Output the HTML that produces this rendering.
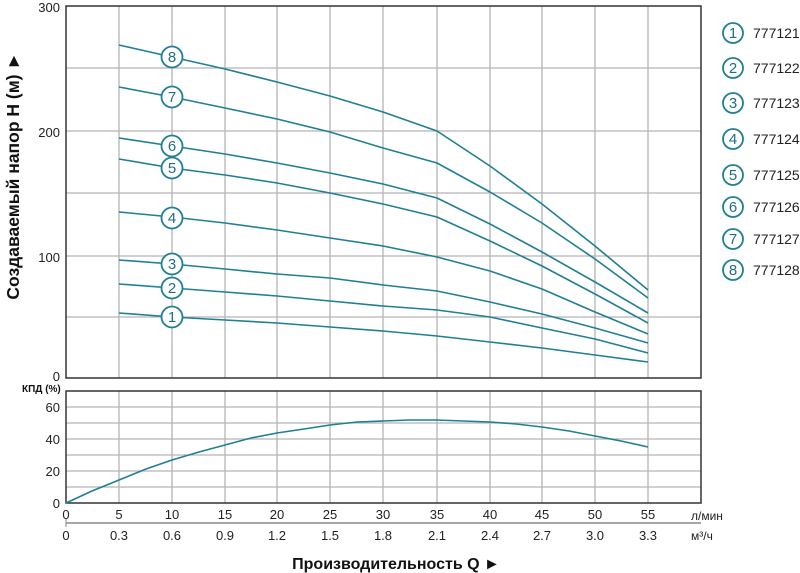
<!DOCTYPE html>
<html><head><meta charset="utf-8"><style>
body{margin:0;background:#fff;}
svg{display:block;font-family:"Liberation Sans",Arial,sans-serif;}
</style></head><body>
<svg width="800" height="573" viewBox="0 0 800 573" xmlns="http://www.w3.org/2000/svg">
<g stroke="#b4b4b4" stroke-width="1.3">
<line x1="119" y1="6" x2="119" y2="378"/><line x1="172" y1="6" x2="172" y2="378"/><line x1="225" y1="6" x2="225" y2="378"/><line x1="277" y1="6" x2="277" y2="378"/><line x1="330" y1="6" x2="330" y2="378"/><line x1="383" y1="6" x2="383" y2="378"/><line x1="437" y1="6" x2="437" y2="378"/><line x1="490" y1="6" x2="490" y2="378"/><line x1="542" y1="6" x2="542" y2="378"/><line x1="595" y1="6" x2="595" y2="378"/><line x1="648" y1="6" x2="648" y2="378"/>
<line x1="66" y1="68" x2="701" y2="68"/><line x1="66" y1="131" x2="701" y2="131"/><line x1="66" y1="193" x2="701" y2="193"/><line x1="66" y1="256" x2="701" y2="256"/><line x1="66" y1="317" x2="701" y2="317"/>
<line x1="119" y1="391" x2="119" y2="503"/><line x1="172" y1="391" x2="172" y2="503"/><line x1="225" y1="391" x2="225" y2="503"/><line x1="277" y1="391" x2="277" y2="503"/><line x1="330" y1="391" x2="330" y2="503"/><line x1="383" y1="391" x2="383" y2="503"/><line x1="437" y1="391" x2="437" y2="503"/><line x1="490" y1="391" x2="490" y2="503"/><line x1="542" y1="391" x2="542" y2="503"/><line x1="595" y1="391" x2="595" y2="503"/><line x1="648" y1="391" x2="648" y2="503"/>
<line x1="66" y1="407" x2="701" y2="407"/><line x1="66" y1="423" x2="701" y2="423"/><line x1="66" y1="439" x2="701" y2="439"/><line x1="66" y1="455" x2="701" y2="455"/><line x1="66" y1="471" x2="701" y2="471"/><line x1="66" y1="487" x2="701" y2="487"/>
</g>
<rect x="66" y="6" width="635" height="372" fill="none" stroke="#333" stroke-width="1.5"/>
<rect x="66" y="391" width="635" height="112" fill="none" stroke="#333" stroke-width="1.5"/>
<line x1="66" y1="523" x2="701" y2="523" stroke="#888" stroke-width="1.5"/>
<line x1="66" y1="519" x2="66" y2="527" stroke="#888"/>
<g fill="none" stroke="#1f7f94" stroke-width="1.6" stroke-linejoin="round">
<polyline points="119,45 172,57 225,69 277,82 330,96 383,112 437,131 490,166 542,204 595,246 648,290"/>
<polyline points="119,87 172,97 225,108 277,119 330,132 383,148 437,163 490,192 542,223 595,259 648,298"/>
<polyline points="119,138 172,146 225,154 277,163 330,173 383,184 437,198 490,224 542,252 595,282 648,313"/>
<polyline points="119,159 172,168 225,175 277,183 330,193 383,204 437,217 490,241 542,266 595,294 648,323"/>
<polyline points="119,212 172,217 225,223 277,230 330,238 383,246 437,257 490,271 542,289 595,312 648,334"/>
<polyline points="119,260 172,264 225,269 277,274 330,278 383,285 437,291 490,302 542,314 595,328 648,343"/>
<polyline points="119,284 172,288 225,292 277,296 330,301 383,306 437,310 490,317 542,328 595,339 648,353"/>
<polyline points="119,313 172,317 225,320 277,323 330,327 383,331 437,336 490,342 542,348 595,355 648,362"/>
<polyline points="66,503 92,491 119,480 146,469 172,460 199,452 225,445 251,438 277,433 304,429 330,425 357,422 383,421 410,420 437,420 463,421 490,422 516,424 542,427 569,431 595,436 621,441 648,447"/>
</g>
<g fill="#fff" stroke="#1f7f94" stroke-width="1.8">
<circle cx="172" cy="57" r="10.5"/><circle cx="172" cy="97" r="10.5"/><circle cx="172" cy="146" r="10.5"/><circle cx="172" cy="168" r="10.5"/><circle cx="172" cy="218" r="10.5"/><circle cx="172" cy="264" r="10.5"/><circle cx="172" cy="288" r="10.5"/><circle cx="172" cy="317" r="10.5"/>
<circle cx="733" cy="33" r="10"/><circle cx="733" cy="68" r="10"/><circle cx="733" cy="103" r="10"/><circle cx="733" cy="139" r="10"/><circle cx="733" cy="175" r="10"/><circle cx="733" cy="207" r="10"/><circle cx="733" cy="239" r="10"/><circle cx="733" cy="270" r="10"/>
</g>
<g fill="#1f6f84" font-size="15" text-anchor="middle">
<text x="172" y="62">8</text><text x="172" y="102">7</text><text x="172" y="151">6</text><text x="172" y="173">5</text><text x="172" y="223">4</text><text x="172" y="269">3</text><text x="172" y="293">2</text><text x="172" y="322">1</text>
<text x="733" y="38">1</text><text x="733" y="73">2</text><text x="733" y="108">3</text><text x="733" y="144">4</text><text x="733" y="180">5</text><text x="733" y="212">6</text><text x="733" y="244">7</text><text x="733" y="275">8</text>
</g>
<g fill="#222" font-size="14">
<text x="753" y="38">777121</text><text x="753" y="73">777122</text><text x="753" y="108">777123</text><text x="753" y="144">777124</text><text x="753" y="180">777125</text><text x="753" y="212">777126</text><text x="753" y="244">777127</text><text x="753" y="275">777128</text>
</g>
<g fill="#222" font-size="13" text-anchor="end">
<text x="60" y="12">300</text><text x="60" y="137">200</text><text x="60" y="262">100</text><text x="60" y="381">0</text>
<text x="60" y="412">60</text><text x="60" y="444">40</text><text x="60" y="476">20</text><text x="60" y="508">0</text>
</g>
<text x="22" y="392" font-size="10" font-weight="bold" fill="#111">КПД (%)</text>
<g fill="#222" font-size="13" text-anchor="middle">
<text x="66" y="519">0</text><text x="119" y="519">5</text><text x="172" y="519">10</text><text x="225" y="519">15</text><text x="277" y="519">20</text><text x="330" y="519">25</text><text x="383" y="519">30</text><text x="437" y="519">35</text><text x="490" y="519">40</text><text x="542" y="519">45</text><text x="595" y="519">50</text><text x="648" y="519">55</text>
<text x="66" y="540">0</text><text x="119" y="540">0.3</text><text x="172" y="540">0.6</text><text x="225" y="540">0.9</text><text x="277" y="540">1.2</text><text x="330" y="540">1.5</text><text x="383" y="540">1.8</text><text x="437" y="540">2.1</text><text x="490" y="540">2.4</text><text x="542" y="540">2.7</text><text x="595" y="540">3.0</text><text x="648" y="540">3.3</text>
</g>
<text x="691" y="520" font-size="12" fill="#222">л/мин</text>
<text x="691" y="540" font-size="12" fill="#222">м³/ч</text>
<text x="396" y="569" font-size="16" font-weight="bold" text-anchor="middle" fill="#111">Производительность Q ►</text>
<text transform="translate(19,176) rotate(-90)" font-size="17.5" font-weight="bold" text-anchor="middle" fill="#111">Создаваемый напор H (м) ►</text>
</svg>
</body></html>
